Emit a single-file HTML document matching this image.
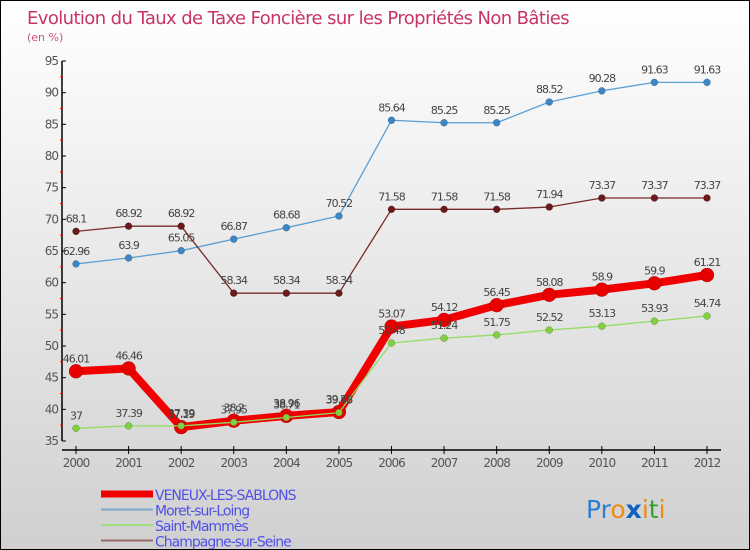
<!DOCTYPE html>
<html><head><meta charset="utf-8"><style>
body{margin:0}
#wrap{width:750px;height:550px;position:relative;box-sizing:border-box;border:1px solid #000;background:linear-gradient(#fff,#d0d0d0);font-family:"DejaVu Sans","Liberation Sans",sans-serif;overflow:hidden}
svg text{font-family:"DejaVu Sans","Liberation Sans",sans-serif}
</style></head><body>
<div id="wrap">
<svg id="c" width="750" height="550">
<text x="26" y="23" font-size="18" fill="#c8336a" letter-spacing="-0.6">Evolution du Taux de Taxe Foncière sur les Propriétés Non Bâties</text>
<text x="26" y="40" font-size="11" fill="#d0507a">(en %)</text>
<g id="axes"></g><g id="series"></g><g id="legend"></g>
<text x="585" y="517" font-size="25"><tspan fill="#2a7fd0">Pr</tspan><tspan fill="#f08a10">o</tspan><tspan fill="#1060c0" font-weight="bold">x</tspan><tspan fill="#f08a10">i</tspan><tspan fill="#30a030">t</tspan><tspan fill="#f08a10">i</tspan></text>
</svg></div>
<script>
const years=[2000,2001,2002,2003,2004,2005,2006,2007,2008,2009,2010,2011,2012];
const yTicks=[35,40,45,50,55,60,65,70,75,80,85,90,95];
const veneux=[46.01,46.46,37.19,38.2,38.96,39.58,53.07,54.12,56.45,58.08,58.9,59.9,61.21];
const moret=[62.96,63.9,65.05,66.87,68.68,70.52,85.64,85.25,85.25,88.52,90.28,91.63,91.63];
const stMammes=[37,37.39,37.39,37.95,38.71,39.48,50.48,51.24,51.75,52.52,53.13,53.93,54.74];
const champagne=[68.1,68.92,68.92,58.34,58.34,58.34,71.58,71.58,71.58,71.94,73.37,73.37,73.37];
const NS='http://www.w3.org/2000/svg';
const X=i=>75+i*(706-75)/(years.length-1);
const Y=v=>440-(v-35)*(380/60);
function mk(t,a,p,txt){const e=document.createElementNS(NS,t);for(const k in a)e.setAttribute(k,a[k]);if(txt!==undefined)e.textContent=txt;p.appendChild(e);return e;}
const ax=document.getElementById('axes');
let e=mk('line',{x1:61,y1:60,x2:61,y2:440,stroke:'#000','stroke-width':1.5},ax);

e=mk('line',{x1:61,y1:449,x2:720,y2:449,stroke:'#000','stroke-width':1.5},ax);

yTicks.forEach((v,i)=>{
 mk('line',{x1:61,y1:Y(v),x2:65,y2:Y(v),stroke:'#000'},ax);
 if(i<yTicks.length-1)mk('line',{x1:59,y1:Y(v+2.5),x2:62,y2:Y(v+2.5),stroke:'#f00'},ax);
 const t=mk('text',{x:57,y:Y(v)+4,'font-size':12,fill:'#555','text-anchor':'end','letter-spacing':'-1'},ax,String(v));
 
});
years.forEach((y,i)=>{
 mk('line',{x1:X(i),y1:445,x2:X(i),y2:453,stroke:'#000'},ax);
 const t=mk('text',{x:X(i),y:466,'font-size':12,fill:'#555','text-anchor':'middle','letter-spacing':'-1'},ax,String(y));
 
});
const sg=document.getElementById('series');
const series=[
 {name:'moret',data:moret,color:'#5a9fd4',w:1.3,r:3.5,fill:'#3d86c6'},
 {name:'champagne',data:champagne,color:'#7a2a2a',w:1.3,r:3.5,fill:'#6a1a1a'},
 {name:'saint-mammes',data:stMammes,color:'#90dd60',w:1.3,r:3.5,fill:'#80d040'},
 {name:'veneux',data:veneux,color:'#f00000',w:8,r:7,fill:'#e80000'}];
const order=[series[0],series[1],series[3],series[2]];
order.forEach(s=>{
 const g=mk('g',{},sg);
 const pl=mk('polyline',{points:s.data.map((v,i)=>X(i)+','+Y(v)).join(' '),fill:'none',stroke:s.color,'stroke-width':s.w,'stroke-linejoin':'round'},g);
 
 s.data.forEach((v,i)=>{
  const c=mk('circle',{cx:X(i),cy:Y(v),r:s.r,fill:s.fill,stroke:'rgba(0,0,0,0.3)','stroke-width':0.5},g);
  
  const t=mk('text',{x:X(i),y:Y(v)-9,'font-size':11,fill:'#444','text-anchor':'middle','letter-spacing':'-1'},g,String(v));
  
 });
});
const lg=document.getElementById('legend');
const leg=[['VENEUX-LES-SABLONS','#f00000',7],['Moret-sur-Loing','#7aaad0',2],['Saint-Mammès','#a0dd80',2],['Champagne-sur-Seine','#9a6a6a',2]];
leg.forEach((l,i)=>{
 const yy=493+i*15.5;
 const g=mk('g',{},lg);
 mk('line',{x1:100,y1:yy,x2:152,y2:yy,stroke:l[1],'stroke-width':l[2]},g);
 mk('text',{x:154,y:yy+6,'font-size':14,fill:'#5050e8','letter-spacing':'-1'},g,l[0]);
});
</script></body></html>
